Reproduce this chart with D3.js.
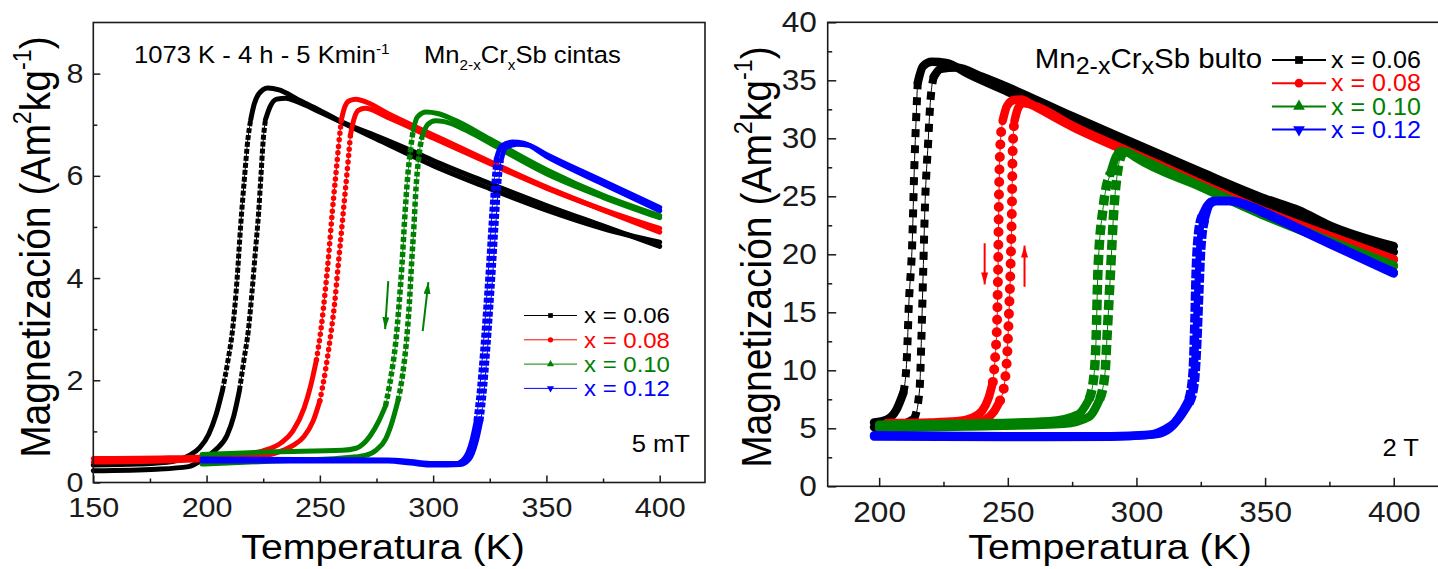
<!DOCTYPE html>
<html>
<head>
<meta charset="utf-8">
<title>Mn2-xCrxSb magnetizacion</title>
<script src="https://d3js.org/d3.v7.min.js"></script>
<style>
    body { margin: 0; background: #fff; }
    svg { display: block; font-family: "Liberation Sans", Arial, sans-serif; }
    .frame { fill: none; stroke: #1a1a1a; stroke-width: 1.6; }
</style>
</head>
<body>
<script>

// ---------- data: left panel, cintas (ribbons), 5 mT ----------
var cintas06Cool = [[150,0.34],[170,0.36],[185,0.41],[192,0.52],[197,0.68],[201,0.95],[204,1.3],[207,1.8],[209.5,2.4],[211.5,3.0],[213.5,4.0],[215,5.0],[216.8,6.0],[218.2,6.7],[219.5,7.1],[221,7.4],[223,7.6],[227,7.72],[232,7.68],[240,7.5],[250,7.28],[260,7.05],[275,6.78],[290,6.5],[300,6.3],[325,5.85],[350,5.42],[375,5.02],[400,4.62]];
var cintas06Heat = [[150,0.23],[178,0.26],[192,0.31],[198,0.44],[204,0.64],[209,0.92],[212,1.3],[214.5,1.8],[216.5,2.4],[218.5,3.0],[220,3.7],[221.5,4.5],[223,5.3],[224,6.0],[225,6.7],[226,7.1],[228,7.35],[231,7.5],[235,7.52],[240,7.45],[250,7.25],[275,6.72],[300,6.2],[325,5.75],[350,5.33],[375,4.97],[400,4.7]];
var cintas08Cool = [[150,0.47],[180,0.48],[200,0.5],[215,0.55],[225,0.62],[233,0.78],[238,1.0],[243,1.45],[246,1.9],[248.5,2.4],[250.5,3.0],[252.5,3.8],[254,4.5],[255.5,5.3],[257,6.0],[258.3,6.6],[259.5,7.1],[261,7.35],[263,7.47],[266,7.5],[270,7.45],[280,7.22],[300,6.8],[325,6.28],[350,5.78],[375,5.33],[400,4.9]];
var cintas08Heat = [[150,0.40],[180,0.42],[200,0.45],[220,0.5],[230,0.57],[238,0.72],[243,0.9],[247,1.2],[250,1.6],[252.5,2.2],[254.5,2.8],[256.5,3.5],[258,4.2],[259.5,4.9],[261,5.6],[262.5,6.3],[263.5,6.8],[265,7.1],[267,7.28],[270,7.32],[280,7.14],[300,6.74],[325,6.24],[350,5.76],[375,5.34],[400,4.97]];
var cintas10Cool = [[198,0.55],[230,0.6],[260,0.63],[266,0.67],[272,0.9],[276,1.2],[279,1.5],[281.5,2.1],[283.5,2.75],[285,3.5],[286.3,4.3],[287.5,5.2],[288.8,6.0],[290,6.5],[291.2,6.9],[293,7.15],[297,7.25],[302,7.22],[310,7.08],[325,6.72],[350,6.12],[375,5.62],[400,5.22]];
var cintas10Heat = [[198,0.36],[230,0.42],[260,0.48],[270,0.53],[275,0.64],[279,0.85],[282,1.2],[284.5,1.6],[286.5,2.1],[288.2,2.75],[289.5,3.5],[290.5,4.3],[291.5,5.0],[292.5,5.8],[293.5,6.3],[295,6.75],[297.5,7.0],[301,7.08],[305,7.06],[315,6.88],[325,6.64],[350,6.04],[375,5.58],[400,5.18]];
var cintas12Cool = [[198,0.46],[240,0.45],[280,0.44],[290,0.41],[300,0.37],[310,0.37],[314,0.48],[317,0.8],[319,1.2],[320.5,1.8],[322,2.6],[323.3,3.4],[324.5,4.2],[325.6,5.0],[326.8,5.8],[328,6.35],[330,6.58],[335,6.66],[340,6.64],[350,6.38],[375,5.84],[400,5.32]];
var cintas12Heat = [[198,0.42],[240,0.42],[280,0.42],[290,0.38],[300,0.34],[312,0.35],[316,0.46],[319,0.8],[321,1.2],[322.5,1.8],[324,2.6],[325.3,3.4],[326.5,4.2],[327.6,5.0],[328.8,5.8],[330,6.3],[332,6.55],[337,6.62],[342,6.6],[350,6.42],[375,5.9],[400,5.38]];

// ---------- data: right panel, bulto (bulk), 2 T ----------
var bulto06Cool = [[198,5.5],[203,5.75],[206.7,6.6],[209.4,8.05],[210.8,11.2],[211.5,15.5],[212.9,21.3],[213.6,27.0],[214.3,31.3],[215,34.8],[217,36.2],[220.5,36.6],[226,36.5],[235,35.5],[250,34.0],[275,31.5],[300,29.1],[325,26.7],[350,24.4],[363,23.3],[375,22.1],[400,20.2]];
var bulto06Heat = [[198,5.1],[205,5.2],[210,5.4],[213.6,5.8],[215.7,8.3],[216.4,12.6],[217.1,18.4],[217.8,24.1],[219.1,29.9],[219.8,32.8],[221.2,35.3],[224,36.0],[230,36.1],[240,35.3],[250,34.4],[275,31.9],[300,29.5],[325,27.1],[350,24.8],[363,23.8],[375,22.5],[400,20.7]];
var bulto08Cool = [[203,5.45],[220,5.5],[230,5.6],[236,5.9],[240,6.5],[242.5,7.6],[244.2,9.0],[245.2,11.5],[245.8,14.0],[246.2,18.4],[246.5,24.1],[247,29.0],[248,31.5],[249.7,32.8],[252.4,33.3],[255.2,33.35],[260,32.8],[275,31.0],[300,28.5],[325,26.0],[350,23.6],[375,21.5],[400,19.5]];
var bulto08Heat = [[203,5.1],[220,5.15],[235,5.3],[241,5.7],[244.5,6.4],[247,7.4],[248.8,9.0],[249.8,11.5],[250.3,14.1],[251,18.4],[251.6,24.1],[251.9,29.0],[252.6,31.5],[254,32.6],[256,33.05],[260,32.85],[275,31.1],[300,28.6],[325,26.1],[350,23.7],[375,21.6],[400,19.6]];
var bulto10Cool = [[200,5.3],[234,5.4],[266,5.6],[277.4,6.2],[281.6,7.5],[283.6,9.8],[284.3,12.6],[285,18.4],[287.1,24.1],[289.9,27.0],[292,28.4],[294,28.9],[297,28.75],[300,28.3],[325,25.8],[350,23.3],[375,21.1],[400,18.95]];
var bulto10Heat = [[200,5.0],[234,5.15],[271.8,5.4],[281.6,6.0],[285.7,7.5],[287.8,9.8],[288.5,12.6],[289.9,18.4],[291.3,24.1],[292.6,27.0],[294,28.5],[296,28.8],[300,28.4],[325,25.9],[350,23.4],[375,21.2],[400,19.05]];
var bulto12Cool = [[198,4.4],[250,4.32],[290,4.32],[305,4.45],[311,4.9],[314.8,5.5],[318,6.5],[320.4,7.5],[322,9.8],[322.7,14.1],[323.2,18.4],[324,21.5],[325.5,23.3],[327.5,24.2],[330,24.6],[336,24.6],[345,24.0],[350,23.5],[375,20.9],[400,18.35]];
var bulto12Heat = [[198,4.3],[250,4.25],[290,4.28],[308,4.5],[313,5.0],[317,6.0],[320.5,7.2],[322.5,9.0],[323.5,12.6],[324.2,16.5],[325,20.5],[326.5,23.0],[328.5,24.3],[331,24.6],[337,24.6],[345,24.1],[350,23.6],[375,21.0],[400,18.45]];

// legend / series info
var seriesLabels = ["x = 0.06", "x = 0.08", "x = 0.10", "x = 0.12"];
var seriesColors = ["#000000", "#ff0000", "#008000", "#0000ff"];
var seriesSymbols = ["square", "circle", "triangle", "triangleDown"];

// axes
var cintasXTicks = [150, 200, 250, 300, 350, 400];
var cintasXMinor = [175, 225, 275, 325, 375];
var cintasYTicks = [0, 2, 4, 6, 8];
var cintasYMinor = [1, 3, 5, 7];
var bultoXTicks = [200, 250, 300, 350, 400];
var bultoXMinor = [225, 275, 325, 375];
var bultoYTicks = [0, 5, 10, 15, 20, 25, 30, 35, 40];
var bultoYMinor = [2.5, 7.5, 12.5, 17.5, 22.5, 27.5, 32.5, 37.5];

// arrows (T, M) start -> end
var cintasArrowDown = [[280.2, 3.94], [278.8, 3.0]];
var cintasArrowUp = [[295.4, 2.96], [297.9, 3.92]];
var bultoArrowDown = [[241, 20.95], [241, 17.4]];
var bultoArrowUp = [[256.5, 17.2], [256.5, 20.75]];

var W = 1438, H = 569;
var STRETCH = "scale(1.09,1)";

var svg = d3.select("body").append("svg").attr("width", W).attr("height", H);
var defs = svg.append("defs");

function arrowHead(id, color, len, wid) {
    defs.append("marker").attr("id", id)
        .attr("markerUnits", "userSpaceOnUse")
        .attr("markerWidth", len).attr("markerHeight", wid)
        .attr("refX", len).attr("refY", wid / 2)
        .attr("orient", "auto")
        .append("path").attr("d", "M0,0L" + len + "," + (wid / 2) + "L0," + wid + "Z").attr("fill", color);
}
arrowHead("ahGreen", "#008000", 12, 7);
arrowHead("ahRed", "#ff0000", 12, 7);

function symbolPath(name, size) {
    var t = name === "square" ? d3.symbolSquare : name === "circle" ? d3.symbolCircle : d3.symbolTriangle;
    return d3.symbol().type(t).size(size)();
}

// one measured branch: thick band where the points pile up, marker chain where they spread
function drawBranch(g, x, y, pts, color, st) {
    var line = d3.line().x(function (d) { return x(d[0]); }).y(function (d) { return y(d[1]); })
        .curve(d3.curveMonotoneX);
    g.append("path").attr("d", line(pts)).attr("fill", "none")
        .attr("stroke", color).attr("stroke-width", 1);
    var runs = [], cur = null;
    for (var i = 1; i < pts.length; i++) {
        var dx = Math.abs(x(pts[i][0]) - x(pts[i - 1][0])),
            dy = Math.abs(y(pts[i][1]) - y(pts[i - 1][1]));
        var steep = dy > st.steep * dx;
        if (!cur || cur.steep !== steep) { cur = { steep: steep, pts: [pts[i - 1]] }; runs.push(cur); }
        cur.pts.push(pts[i]);
    }
    runs.forEach(function (r) {
        var p = g.append("path").attr("d", line(r.pts)).attr("fill", "none")
            .attr("stroke", color).attr("stroke-width", r.steep ? st.markW : st.width);
        if (r.steep) p.attr("stroke-dasharray", st.dash).attr("stroke-linecap", st.cap);
        else p.attr("stroke-linecap", "round").attr("stroke-linejoin", "round");
    });
}

function drawPanel(cfg) {
    var g = svg.append("g");
    var x = d3.scaleLinear().domain(cfg.xDomain).range([cfg.left, cfg.right]);
    var y = d3.scaleLinear().domain(cfg.yDomain).range([cfg.bottom, cfg.top]);

    cfg.series.forEach(function (branches, i) {
        branches.forEach(function (b) { drawBranch(g, x, y, b, seriesColors[i], cfg.styles[i]); });
    });

    g.append("rect").attr("class", "frame")
        .attr("x", cfg.left).attr("y", cfg.top)
        .attr("width", cfg.right - cfg.left).attr("height", cfg.bottom - cfg.top);

    function styleAxis(a) {
        a.select(".domain").remove();
        a.attr("font-family", null).attr("font-size", cfg.tickFont).attr("color", "#1a1a1a");
        a.selectAll("line").attr("stroke-width", 1.5);
        a.selectAll("text").attr("transform", STRETCH);
    }
    styleAxis(g.append("g").attr("transform", "translate(0," + cfg.bottom + ")")
        .call(d3.axisBottom(x).tickValues(cfg.xTicks).tickSize(-cfg.major).tickPadding(cfg.xPad)));
    styleAxis(g.append("g").attr("transform", "translate(0," + cfg.bottom + ")")
        .call(d3.axisBottom(x).tickValues(cfg.xMinor).tickSize(-cfg.minor).tickFormat("")));
    styleAxis(g.append("g").attr("transform", "translate(" + cfg.left + ",0)")
        .call(d3.axisLeft(y).tickValues(cfg.yTicks).tickSize(-cfg.major).tickPadding(cfg.yPad)));
    styleAxis(g.append("g").attr("transform", "translate(" + cfg.left + ",0)")
        .call(d3.axisLeft(y).tickValues(cfg.yMinor).tickSize(-cfg.minor).tickFormat("")));

    // axis titles
    g.append("text").attr("transform", "translate(" + cfg.xTitle[0] + "," + cfg.xTitle[1] + ") " + STRETCH)
        .attr("text-anchor", "middle").attr("font-size", cfg.titleFont).text("Temperatura (K)");
    var yt = g.append("text")
        .attr("transform", "translate(" + cfg.yTitle[0] + "," + cfg.yTitle[1] + ") " + STRETCH + " rotate(-90)")
        .attr("text-anchor", "middle").attr("font-size", cfg.yTitleFont);
    yt.append("tspan").text("Magnetización (Am");
    yt.append("tspan").attr("font-size", "0.6em").attr("dy", "-0.75em").text("2");
    yt.append("tspan").attr("dy", "0.45em").text("kg");
    yt.append("tspan").attr("font-size", "0.6em").attr("dy", "-0.75em").text("-1");
    yt.append("tspan").attr("dy", "0.45em").text(")");

    // arrows
    cfg.arrows.forEach(function (a) {
        g.append("line")
            .attr("x1", x(a[0][0])).attr("y1", y(a[0][1]))
            .attr("x2", x(a[1][0])).attr("y2", y(a[1][1]))
            .attr("stroke", cfg.arrowColor).attr("stroke-width", 2)
            .attr("marker-end", "url(#" + cfg.arrowHead + ")");
    });

    // legend
    var lg = g.append("g");
    seriesLabels.forEach(function (lab, i) {
        var ry = cfg.legend.y + i * cfg.legend.dy;
        lg.append("line").attr("x1", cfg.legend.x0).attr("x2", cfg.legend.x1)
            .attr("y1", ry).attr("y2", ry)
            .attr("stroke", seriesColors[i]).attr("stroke-width", cfg.legend.lw);
        var rot = seriesSymbols[i] === "triangleDown" ? " rotate(180)" : "";
        lg.append("path").attr("d", symbolPath(seriesSymbols[i], cfg.legend.sym))
            .attr("transform", "translate(" + ((cfg.legend.x0 + cfg.legend.x1) / 2) + "," + ry + ")" + rot)
            .attr("fill", seriesColors[i]);
        lg.append("text").attr("transform", "translate(" + cfg.legend.tx + "," + (ry + cfg.legend.font * 0.36) + ") " + STRETCH)
            .attr("font-size", cfg.legend.font).attr("fill", seriesColors[i]).text(lab);
    });

    g.append("text").attr("transform", "translate(" + cfg.field[0] + "," + cfg.field[1] + ") " + STRETCH)
        .attr("text-anchor", "end").attr("font-size", cfg.fieldFont).text(cfg.fieldText);
    return g;
}

// ---------- left panel ----------
var leftG = drawPanel({
    xDomain: [150, 420], yDomain: [0, 9],
    left: 93.3, right: 705, top: 22.5, bottom: 482.5,
    series: [[cintas06Cool, cintas06Heat], [cintas08Cool, cintas08Heat], [cintas10Cool, cintas10Heat], [cintas12Cool, cintas12Heat]],
    styles: [
        { width: 5, markW: 5, steep: 5, dash: "5,2", cap: "butt" },
        { width: 5, markW: 5.5, steep: 5, dash: "0,6.5", cap: "round" },
        { width: 5, markW: 5.5, steep: 5, dash: "5,2.5", cap: "butt" },
        { width: 5, markW: 5.5, steep: 5, dash: "5,2", cap: "butt" }
    ],
    xTicks: cintasXTicks, xMinor: cintasXMinor, yTicks: cintasYTicks, yMinor: cintasYMinor,
    major: 7, minor: 4, xPad: 15, yPad: 9, tickFont: 28,
    titleFont: 36, yTitleFont: 39, xTitle: [383, 559], yTitle: [50, 247],
    arrows: [cintasArrowDown, cintasArrowUp], arrowColor: "#008000", arrowHead: "ahGreen",
    legend: { x0: 524, x1: 577, y: 315.5, dy: 24.3, lw: 1, sym: 22, tx: 584, font: 22 },
    field: [690, 452], fieldFont: 23.5, fieldText: "5 mT"
});

var t1 = leftG.append("text").attr("transform", "translate(134,63) " + STRETCH).attr("font-size", 23.5);
t1.append("tspan").text("1073 K - 4 h - 5 Kmin");
t1.append("tspan").attr("font-size", 14).attr("dy", -9).text("-1");
var t2 = leftG.append("text").attr("transform", "translate(424,63) " + STRETCH).attr("font-size", 23.5);
t2.append("tspan").text("Mn");
t2.append("tspan").attr("font-size", 14).attr("dy", 7).text("2-x");
t2.append("tspan").attr("dy", -7).text("Cr");
t2.append("tspan").attr("font-size", 14).attr("dy", 7).text("x");
t2.append("tspan").attr("dy", -7).text("Sb cintas");

// ---------- right panel ----------
var rightG = drawPanel({
    xDomain: [180, 420], yDomain: [0, 40],
    left: 827.7, right: 1445.2, top: 22.3, bottom: 486.3,
    series: [[bulto06Cool, bulto06Heat], [bulto08Cool, bulto08Heat], [bulto10Cool, bulto10Heat], [bulto12Cool, bulto12Heat]],
    styles: [
        { width: 8.5, markW: 8, steep: 4, dash: "8,8", cap: "butt" },
        { width: 8.5, markW: 10, steep: 4, dash: "0,12.5", cap: "round" },
        { width: 8.5, markW: 9.5, steep: 4, dash: "10,5", cap: "butt" },
        { width: 8.5, markW: 9.5, steep: 4, dash: "9,2", cap: "butt" }
    ],
    xTicks: bultoXTicks, xMinor: bultoXMinor, yTicks: bultoYTicks, yMinor: bultoYMinor,
    major: 8.5, minor: 4.5, xPad: 15, yPad: 10, tickFont: 29,
    titleFont: 36, yTitleFont: 39, xTitle: [1110, 559], yTitle: [771, 257],
    arrows: [bultoArrowDown, bultoArrowUp], arrowColor: "#ff0000", arrowHead: "ahRed",
    legend: { x0: 1272, x1: 1326, y: 60, dy: 23.2, lw: 2, sym: 60, tx: 1331, font: 23 },
    field: [1419, 456], fieldFont: 23.5, fieldText: "2 T"
});

var t3 = rightG.append("text").attr("transform", "translate(1262,68) " + STRETCH)
    .attr("text-anchor", "end").attr("font-size", 27);
t3.append("tspan").text("Mn");
t3.append("tspan").attr("font-size", 23).attr("dy", 6).text("2-x");
t3.append("tspan").attr("dy", -6).text("Cr");
t3.append("tspan").attr("font-size", 23).attr("dy", 6).text("x");
t3.append("tspan").attr("dy", -6).text("Sb bulto");

</script>
</body>
</html>
